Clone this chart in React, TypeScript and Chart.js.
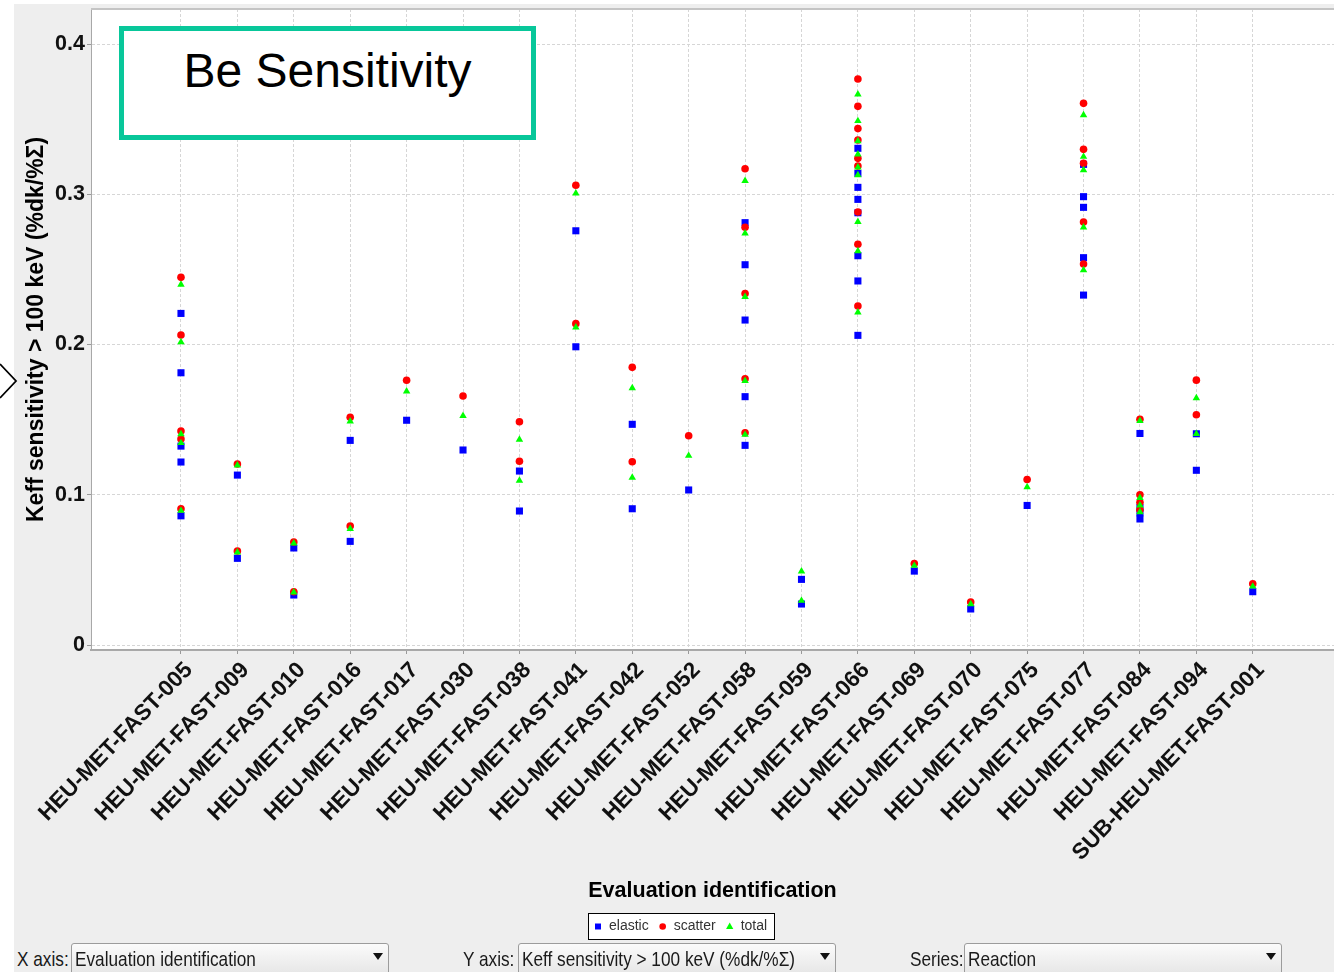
import React, { useEffect, useRef } from "react";
import { Chart, registerables } from "chart.js";

Chart.register(...registerables);

const FONT = "'Liberation Sans', Arial, sans-serif";

const categories: string[] = [
  "HEU-MET-FAST-005",
  "HEU-MET-FAST-009",
  "HEU-MET-FAST-010",
  "HEU-MET-FAST-016",
  "HEU-MET-FAST-017",
  "HEU-MET-FAST-030",
  "HEU-MET-FAST-038",
  "HEU-MET-FAST-041",
  "HEU-MET-FAST-042",
  "HEU-MET-FAST-052",
  "HEU-MET-FAST-058",
  "HEU-MET-FAST-059",
  "HEU-MET-FAST-066",
  "HEU-MET-FAST-069",
  "HEU-MET-FAST-070",
  "HEU-MET-FAST-075",
  "HEU-MET-FAST-077",
  "HEU-MET-FAST-084",
  "HEU-MET-FAST-094",
  "SUB-HEU-MET-FAST-001",
];

// values per category (one list per evaluation)
const elastic: number[][] = [
  [0.2207, 0.1812, 0.1324, 0.1218, 0.086],
  [0.1131, 0.0577],
  [0.0646, 0.0333],
  [0.1362, 0.069],
  [0.1496],
  [0.1298],
  [0.1158, 0.0892],
  [0.2757, 0.1985],
  [0.1469, 0.0907],
  [0.1032],
  [0.2811, 0.2531, 0.2163, 0.1653, 0.1329],
  [0.0437, 0.0273],
  [0.3306, 0.3139, 0.3046, 0.2966, 0.2877, 0.2591, 0.2423, 0.2061],
  [0.0492],
  [0.024],
  [0.0929],
  [0.3199, 0.2984, 0.2913, 0.2578, 0.2329],
  [0.1408, 0.0916, 0.088, 0.0839],
  [0.1406, 0.1163],
  [0.0355],
];

const scatter: number[][] = [
  [0.2447, 0.2063, 0.1424, 0.1371, 0.0907],
  [0.1205, 0.0626],
  [0.0686, 0.0355],
  [0.1516, 0.0792],
  [0.1762],
  [0.1657],
  [0.1486, 0.1223],
  [0.306, 0.2139],
  [0.1848, 0.122],
  [0.1393],
  [0.317, 0.278, 0.234, 0.1772, 0.1413],
  [],
  [0.3767, 0.3585, 0.3437, 0.3361, 0.3239, 0.3188, 0.2882, 0.2667, 0.2256],
  [0.0543],
  [0.0286],
  [0.1102],
  [0.3605, 0.3299, 0.3206, 0.2815, 0.2536],
  [0.1503, 0.1, 0.095, 0.09],
  [0.1763, 0.1533],
  [0.0408],
];

const total: number[][] = [
  [0.2399, 0.2016, 0.1404, 0.1345, 0.0894],
  [0.1196, 0.0617],
  [0.0677, 0.0351],
  [0.1489, 0.0774],
  [0.1689],
  [0.1526],
  [0.1367, 0.1094],
  [0.3006, 0.2115],
  [0.171, 0.1114],
  [0.126],
  [0.309, 0.274, 0.2318, 0.1759, 0.14],
  [0.049, 0.0295],
  [0.3665, 0.3488, 0.3354, 0.3266, 0.3179, 0.3128, 0.2817, 0.2622, 0.2214],
  [0.0528],
  [0.0273],
  [0.1051],
  [0.3527, 0.325, 0.3161, 0.278, 0.2496],
  [0.1492, 0.098, 0.093, 0.0885],
  [0.1643, 0.1406],
  [0.039],
];

const yTicks: number[] = [0, 0.1, 0.2, 0.3, 0.4];
const yTickLabels: string[] = ["0", "0.1", "0.2", "0.3", "0.4"];

const seriesNames = ["elastic", "scatter", "total"];
const xTitle = "Evaluation identification";
const yTitle = "Keff sensitivity > 100 keV (%dk/%Σ)";

function toPoints(values: number[][]) {
  const pts: { x: number; y: number }[] = [];
  values.forEach((list, i) => list.forEach((v) => pts.push({ x: i, y: v })));
  return pts;
}

const plotBackground = {
  id: "plotBackground",
  beforeDraw(chart: any) {
    const { ctx, chartArea } = chart;
    ctx.save();
    ctx.fillStyle = "#ffffff";
    ctx.fillRect(chartArea.left, chartArea.top, chartArea.right - chartArea.left, chartArea.bottom - chartArea.top);
    ctx.restore();
  },
  afterDraw(chart: any) {
    const { ctx, chartArea } = chart;
    ctx.save();
    ctx.strokeStyle = "#c4c4c4";
    ctx.lineWidth = 2;
    ctx.beginPath();
    ctx.moveTo(chartArea.left, chartArea.top);
    ctx.lineTo(chartArea.right, chartArea.top);
    ctx.stroke();
    ctx.restore();
  },
};

const boxLegend = {
  id: "boxLegend",
  afterDraw(chart: any) {
    const ctx = chart.ctx as CanvasRenderingContext2D;
    ctx.save();
    ctx.font = `14px ${FONT}`;
    const items = chart.data.datasets.map((ds: any) => ({
      label: ds.label,
      color: ds.backgroundColor,
      style: ds.pointStyle,
      w: ctx.measureText(ds.label).width,
    }));
    const markerW = 6;
    const markerGap = 8;
    const itemGap = 11;
    const padX = 7;
    const contentW =
      items.reduce((a: number, it: any) => a + markerW + markerGap + it.w, 0) + itemGap * (items.length - 1);
    const boxW = Math.round(contentW + padX * 2);
    const boxH = 26;
    const cx = 666.5;
    const top = 909;
    const left = Math.round(cx - boxW / 2);
    ctx.fillStyle = "#ffffff";
    ctx.fillRect(left, top, boxW, boxH);
    ctx.strokeStyle = "#000000";
    ctx.lineWidth = 1;
    ctx.strokeRect(left + 0.5, top + 0.5, boxW, boxH);
    let x = left + padX;
    const cy = top + boxH / 2 + 0.5;
    for (const it of items) {
      const mx = x + markerW / 2;
      ctx.fillStyle = it.color;
      ctx.beginPath();
      if (it.style === "rect") {
        ctx.rect(mx - 3, cy - 3, 6, 6);
      } else if (it.style === "circle") {
        ctx.arc(mx, cy, 3.3, 0, Math.PI * 2);
      } else {
        ctx.moveTo(mx, cy - 4);
        ctx.lineTo(mx + 3.6, cy + 2.6);
        ctx.lineTo(mx - 3.6, cy + 2.6);
        ctx.closePath();
      }
      ctx.fill();
      ctx.fillStyle = "#333333";
      ctx.textBaseline = "middle";
      ctx.textAlign = "left";
      ctx.fillText(it.label, x + markerW + markerGap, cy);
      x += markerW + markerGap + it.w + itemGap;
    }
    ctx.restore();
  },
};

const gridColor = "#d6d6d6";

function ChartCanvas() {
  const ref = useRef<HTMLCanvasElement | null>(null);
  useEffect(() => {
    if (!ref.current) return;
    const chart = new Chart(ref.current, {
      type: "scatter",
      data: {
        datasets: [
          {
            label: seriesNames[0],
            data: toPoints(elastic),
            pointStyle: "rect",
            pointRadius: 5,
            backgroundColor: "#0000ff",
            borderColor: "#0000ff",
            borderWidth: 0,
            order: 3,
          },
          {
            label: seriesNames[1],
            data: toPoints(scatter),
            pointStyle: "circle",
            pointRadius: 3.8,
            backgroundColor: "#ff0000",
            borderColor: "#ff0000",
            borderWidth: 0,
            order: 2,
          },
          {
            label: seriesNames[2],
            data: toPoints(total),
            pointStyle: "triangle",
            pointRadius: 4.3,
            backgroundColor: "#00ff00",
            borderColor: "#00ff00",
            borderWidth: 0,
            order: 1,
          },
        ],
      },
      options: {
        responsive: false,
        animation: false,
        devicePixelRatio: 1,
        events: [],
        layout: { padding: { left: 0, right: 0, top: 5, bottom: 40 } },
        plugins: {
          legend: { display: false },
          tooltip: { enabled: false },
        },
        scales: {
          x: {
            type: "linear",
            min: -1.595,
            max: 20.44,
            afterBuildTicks: (s: any) => {
              s.ticks = categories.map((_, i) => ({ value: i }));
            },
            afterFit: (s: any) => {
              s.height = 254;
              s.paddingLeft = 0;
              s.paddingRight = 0;
            },
            ticks: {
              autoSkip: false,
              minRotation: 46,
              maxRotation: 46,
              padding: 3,
              labelOffset: 8,
              color: "#111111",
              font: { family: FONT, size: 22.5, weight: "bold" },
              callback: (v: any) => categories[Math.round(Number(v))],
            },
            grid: { color: gridColor, lineWidth: 1, tickLength: 4, tickColor: "#999999" },
            border: { color: "#a8a8a8", width: 2, dash: [3, 2] },
            title: {
              display: true,
              text: xTitle,
              color: "#000000",
              font: { family: FONT, size: 21.5, weight: "bold" },
              padding: { top: 0, bottom: 0 },
            },
          },
          y: {
            type: "linear",
            min: -0.0033,
            max: 0.4233,
            afterBuildTicks: (s: any) => {
              s.ticks = yTicks.map((v) => ({ value: v }));
            },
            afterFit: (s: any) => {
              s.width = 77;
              s.paddingTop = 0;
              s.paddingBottom = 0;
            },
            ticks: {
              padding: 2,
              color: "#111111",
              font: { family: FONT, size: 21.5, weight: "bold" },
              callback: (_v: any, i: number) => yTickLabels[i],
            },
            grid: { color: gridColor, lineWidth: 1, tickLength: 4, tickColor: "#999999" },
            border: { color: "#a8a8a8", width: 1, dash: [3, 2] },
            title: {
              display: true,
              text: yTitle,
              color: "#000000",
              font: { family: FONT, size: 23, weight: "bold" },
              padding: { top: 9, bottom: 0 },
            },
          },
        },
      } as any,
      plugins: [plotBackground, boxLegend],
    });
    return () => chart.destroy();
  }, []);
  return (
    <canvas
      ref={ref}
      width={1325}
      height={940}
      style={{ position: "absolute", left: 14, top: 4, width: 1325, height: 940 }}
    />
  );
}

const narrow: React.CSSProperties = {
  position: "absolute",
  fontFamily: FONT,
  fontSize: 21,
  lineHeight: "21px",
  color: "#1a1a1a",
  whiteSpace: "nowrap",
  transform: "scaleX(0.82)",
  transformOrigin: "left top",
};

function Combo(props: { label: string; labelX: number; boxX: number; boxW: number; value: string }) {
  const { label, labelX, boxX, boxW, value } = props;
  return (
    <>
      <span style={{ ...narrow, left: labelX, top: 948 }}>{label}</span>
      <div
        style={{
          position: "absolute",
          left: boxX,
          top: 943,
          width: boxW,
          height: 32,
          boxSizing: "border-box",
          border: "1px solid #9c9c9c",
          borderRadius: 3,
          background: "linear-gradient(#fbfbfb, #e6e6e6)",
        }}
      />
      <span style={{ ...narrow, left: boxX + 4, top: 948 }}>{value}</span>
      <div
        style={{
          position: "absolute",
          left: boxX + boxW - 16,
          top: 953,
          width: 0,
          height: 0,
          borderLeft: "5.5px solid transparent",
          borderRight: "5.5px solid transparent",
          borderTop: "7px solid #111",
        }}
      />
    </>
  );
}

export default function App() {
  useEffect(() => {
    document.body.style.margin = "0";
  }, []);
  return (
    <div style={{ position: "relative", width: 1334, height: 972, background: "#ffffff", overflow: "hidden" }}>
      <div style={{ position: "absolute", left: 14, top: 4, width: 1320, height: 968, background: "#eeeeee" }} />
      <ChartCanvas />
      <svg style={{ position: "absolute", left: 0, top: 360 }} width={20} height={44}>
        <polyline points="0,4 16,21 0,38" fill="none" stroke="#000" strokeWidth={1.8} />
      </svg>
      <div
        style={{
          position: "absolute",
          left: 119,
          top: 26,
          width: 417,
          height: 114,
          boxSizing: "border-box",
          border: "5px solid #08c79a",
          background: "#ffffff",
        }}
      >
        <span
          style={{
            position: "absolute",
            left: 0,
            right: 0,
            top: 16,
            textAlign: "center",
            fontFamily: FONT,
            fontSize: 48,
            lineHeight: "48px",
            color: "#000",
            whiteSpace: "nowrap",
          }}
        >
          Be Sensitivity
        </span>
      </div>
      <Combo label="X axis:" labelX={17} boxX={71} boxW={318} value="Evaluation identification" />
      <Combo label="Y axis:" labelX={463} boxX={518} boxW={318} value={yTitle} />
      <Combo label="Series:" labelX={910} boxX={964} boxW={318} value="Reaction" />
    </div>
  );
}
